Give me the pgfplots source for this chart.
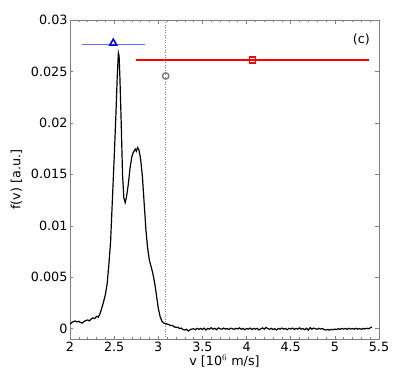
\documentclass[border=0pt]{standalone}
\usepackage{pgfplots}
\pgfplotsset{compat=1.18}
\usepackage{fontspec}
\setmainfont{DejaVu Sans}
\definecolor{lblue}{RGB}{100,112,245}
\definecolor{axgray}{RGB}{128,128,128}
\begin{document}
\begin{tikzpicture}
\begin{axis}[
  scale only axis,
  width=309bp, height=319bp,
  xmin=2, xmax=5.5, ymin=-0.001, ymax=0.03,
  xtick={2,2.5,...,5.5},
  xticklabels={2,2.5,3,3.5,4,4.5,5,5.5},
  minor x tick num=4,
  ytick={0,0.005,0.01,0.015,0.02,0.025,0.03},
  yticklabels={0,0.005,0.01,0.015,0.02,0.025,0.03},
  scaled y ticks=false,
  tick align=inside,
  major tick length=3.5bp, minor tick length=2bp,
  every tick/.style={axgray, line width=0.5pt},
  axis line style={axgray, line width=0.7pt},
  tick label style={font=\fontsize{12.8}{14}\selectfont, black},
  yticklabel style={xshift=1bp},
  label style={font=\fontsize{12.8}{14}\selectfont},
  xlabel={v [10$^{6}$ m/s]},
  ylabel={f(v) [a.u.]},
  xlabel style={yshift=4bp},
  ylabel style={yshift=2bp},
  clip=false,
]
\addplot[axgray, dotted, line width=0.5pt] coordinates {(3.084,-0.001) (3.084,0.03)};
\addplot[black, line width=1.2pt] coordinates {
(2.00,0.00045)(2.02,0.00060)(2.04,0.00070)(2.06,0.00075)(2.08,0.00066)(2.10,0.00072)
(2.12,0.00060)(2.14,0.00055)(2.16,0.00070)(2.18,0.00080)(2.20,0.00085)(2.22,0.00076)
(2.24,0.00095)(2.26,0.00105)(2.28,0.00098)(2.30,0.00120)(2.32,0.00112)(2.34,0.00145)
(2.36,0.00200)(2.38,0.00260)(2.40,0.00330)(2.42,0.00430)(2.44,0.00620)(2.46,0.00850)
(2.48,0.01250)(2.50,0.01650)(2.52,0.02080)(2.535,0.02450)(2.548,0.02680)(2.556,0.02650)
(2.565,0.02450)(2.58,0.02000)(2.595,0.01500)(2.61,0.01270)(2.625,0.01225)(2.64,0.01280)
(2.66,0.01400)(2.68,0.01560)(2.70,0.01670)(2.72,0.01720)(2.74,0.01745)(2.752,0.01725)
(2.765,0.01760)(2.78,0.01740)(2.80,0.01650)(2.82,0.01480)(2.84,0.01220)(2.86,0.00960)
(2.88,0.00780)(2.90,0.00660)(2.92,0.00600)(2.94,0.00530)(2.96,0.00440)(2.98,0.00320)
(3.00,0.00200)(3.02,0.00120)(3.04,0.00075)(3.06,0.00055)(3.08,0.00050)
(3.10,0.00045)(3.12,0.00040)(3.14,0.00030)(3.16,0.00032)(3.18,0.00018)(3.20,0.00013)
(3.22,0.00015)(3.24,0.00002)(3.26,0.00006)(3.28,-0.00008)(3.30,-0.00013)(3.32,-0.00005)
(3.34,-0.00022)(3.36,-0.00010)(3.38,-0.00003)(3.40,0.00000)(3.42,-0.00010)(3.44,0.00004)
(3.46,-0.00006)(3.48,0.00003)(3.50,-0.00008)(3.52,0.00006)(3.54,-0.00012)(3.56,0.00002)
(3.58,-0.00004)(3.60,0.00010)(3.62,-0.00006)(3.64,0.00004)(3.66,-0.00010)(3.68,0.00008)
(3.70,0.00000)(3.72,-0.00005)(3.74,0.00006)(3.76,-0.00004)(3.78,0.00002)(3.80,-0.00008)
(3.82,0.00005)(3.84,0.00000)(3.86,-0.00006)(3.88,0.00004)(3.90,-0.00002)(3.92,0.00008)
(3.94,-0.00005)(3.96,0.00003)(3.98,-0.00010)(4.00,0.00002)(4.02,-0.00004)(4.04,0.00006)
(4.06,-0.00008)(4.08,0.00003)(4.10,-0.00005)(4.12,0.00004)(4.14,-0.00012)(4.16,-0.00002)
(4.18,0.00008)(4.20,-0.00004)(4.22,0.00012)(4.24,0.00002)(4.26,-0.00006)(4.28,0.00004)
(4.30,-0.00008)(4.32,0.00000)(4.34,-0.00012)(4.36,0.00003)(4.38,-0.00005)(4.40,0.00006)
(4.42,-0.00004)(4.44,0.00002)(4.46,-0.00010)(4.48,0.00004)(4.50,-0.00003)(4.52,0.00006)
(4.54,-0.00006)(4.56,0.00002)(4.58,-0.00004)(4.60,0.00008)(4.62,-0.00005)(4.64,0.00001)
(4.66,-0.00010)(4.68,0.00004)(4.70,-0.00014)(4.72,0.00010)(4.74,-0.00004)(4.76,0.00006)
(4.78,0.00000)(4.80,-0.00006)(4.82,0.00004)(4.84,-0.00003)(4.86,0.00002)(4.88,-0.00010)
(4.90,-0.00012)(4.92,-0.00008)(4.94,-0.00014)(4.96,-0.00006)(4.98,-0.00010)(5.00,-0.00004)
(5.02,-0.00008)(5.04,0.00000)(5.06,-0.00006)(5.08,0.00003)(5.10,-0.00004)(5.12,0.00002)
(5.14,-0.00006)(5.16,0.00004)(5.18,-0.00003)(5.20,0.00001)(5.22,-0.00005)(5.24,0.00004)
(5.26,-0.00004)(5.28,0.00002)(5.30,-0.00006)(5.32,0.00003)(5.34,-0.00002)(5.36,0.00004)
(5.38,0.00000)(5.40,0.00008)(5.42,0.00016)
};
\addplot[lblue, line width=1.4pt] coordinates {(2.14,0.02762) (2.85,0.02762)};
\addplot[blue, line width=1.6pt, only marks, mark=triangle, mark size=4pt] coordinates {(2.49,0.02775)};
\addplot[red, line width=1.2pt] coordinates {(2.75,0.02611) (5.39,0.02611)};
\addplot[red, line width=1.6pt, only marks, mark=square, mark size=3pt] coordinates {(4.065,0.02611)};
\addplot[axgray, line width=1.5pt, only marks, mark=o, mark size=3.2pt] coordinates {(3.084,0.02456)};
\node[font=\fontsize{12.8}{14}\selectfont] at (axis cs:5.30,0.0281) {(c)};
\end{axis}
\pgfresetboundingbox
\path ([shift={(-70bp,-53bp)}]current axis.south west) rectangle ([shift={(30bp,20bp)}]current axis.north east);
\end{tikzpicture}
\end{document}
